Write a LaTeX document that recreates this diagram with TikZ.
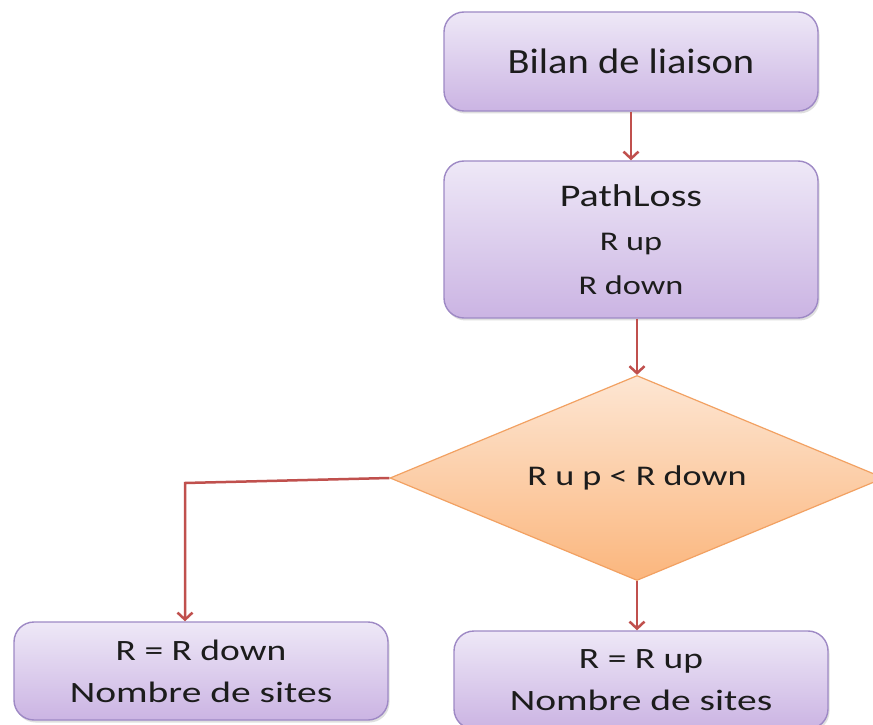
\documentclass[tikz,border=0pt]{standalone}
\usepackage{fontspec}
\setmainfont{Carlito}
% slightly widened faces of the same family
\newfontfamily\widea{Carlito}[FakeStretch=1.14]
\newfontfamily\wideb{Carlito}[FakeStretch=1.27]
\newfontfamily\widec{Carlito}[FakeStretch=1.34]
\usetikzlibrary{shapes.geometric,arrows.meta,shadows}

\definecolor{boxtop}{HTML}{EEE8F7}
\definecolor{boxbot}{HTML}{CBB4E3}
\definecolor{boxline}{HTML}{9E89C5}
\definecolor{diatop}{HTML}{FDE6D3}
\definecolor{diabot}{HTML}{FBB67D}
\definecolor{dialine}{HTML}{F2A162}
\definecolor{flow}{HTML}{C0504D}
\definecolor{ink}{HTML}{1C1C1C}

\tikzset{
  procbox/.style={rectangle, rounded corners=20pt, draw=boxline, line width=1.4pt,
    top color=boxtop, bottom color=boxbot, minimum width=374pt, inner sep=0pt,
    align=center, text=ink,
    drop shadow={opacity=0.25, shadow xshift=1.5pt, shadow yshift=-2.5pt}},
  testbox/.style={diamond, draw=dialine, line width=1.2pt,
    top color=diatop, bottom color=diabot, minimum width=494pt, minimum height=205pt,
    inner sep=0pt, shape aspect=2.4, text=ink},
  flowline/.style={draw=flow, line width=2.5pt,
    -{Straight Barb[length=7pt,width=15pt,line width=2.5pt]}}
}

\begin{document}
\begin{tikzpicture}[x=1pt,y=1pt]
  \useasboundingbox (0,0) rectangle (873,724);
  \clip (0,0) rectangle (873,724);
  \fill[white] (0,0) rectangle (873,724);

  % process boxes
  \node[procbox, minimum height=99pt, font=\widea\fontsize{35.5}{42}\selectfont]
    (bilan) at (631,{724-61.5}) {Bilan de liaison};
  \node[procbox, minimum height=157pt, font=\wideb\fontsize{27}{44}\selectfont]
    (calc) at (631,{724-239.5}) {{\fontsize{31.5}{44}\selectfont PathLoss}\\R up\\R down};

  % decision
  \node[testbox, font=\wideb\fontsize{28.5}{34}\selectfont]
    (test) at (637,{724-478}) {R u p < R down};

  % results
  \node[procbox, minimum height=98pt, font=\widec\fontsize{29.5}{42}\selectfont]
    (rdown) at (201,{724-671}) {{\wideb R = R down}\\Nombre de sites};
  \node[procbox, minimum height=98pt, font=\widec\fontsize{29.5}{42}\selectfont]
    (rup) at (641,{724-680}) {{\wideb R = R up}\\Nombre de sites};

  % connectors
  \coordinate (turn) at (185,{724-483});
  \draw[flowline] (bilan.south) -- (bilan.south |- calc.north);
  \draw[flowline] (test.north |- calc.south) -- (test.north);
  \draw[flowline] (test.west) -- (turn) -- (turn |- rdown.north);
  \draw[flowline] (test.south) -- (test.south |- rup.north);
\end{tikzpicture}
\end{document}
